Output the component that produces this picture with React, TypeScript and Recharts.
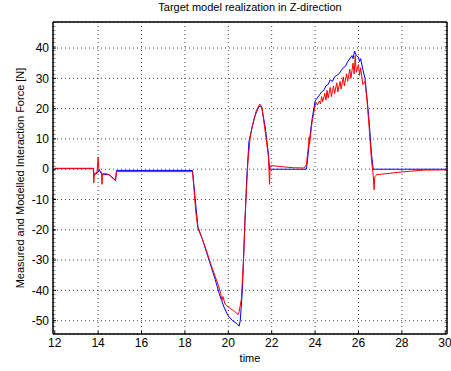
import React from "react";
import { LineChart, Line, XAxis, YAxis, CartesianGrid, ReferenceArea } from "recharts";

// measured force (red)
const redTime = [
  12.0, 13.78, 13.8, 13.83, 13.95, 14.0, 14.03, 14.1, 14.15, 14.18, 14.2, 14.4, 14.55, 14.7, 14.8, 14.85,
  18.35, 18.4, 18.5, 18.6, 18.8, 19.0, 19.2, 19.4, 19.55, 19.65, 19.7, 19.75, 19.85, 20.0, 20.1, 20.2,
  20.3, 20.45, 20.5, 20.6, 20.7, 20.8, 20.9, 21.0, 21.1, 21.2, 21.3, 21.45, 21.55, 21.65, 21.75, 21.85,
  21.9, 21.93, 22.0, 22.5, 23.0, 23.5, 23.6, 23.7, 23.72, 23.75, 23.85, 24.0, 24.05, 24.1, 24.2, 24.25,
  24.3, 24.35, 24.45, 24.5, 24.55, 24.6, 24.7, 24.75, 24.85, 24.9, 25.0, 25.05, 25.15, 25.2, 25.3, 25.35,
  25.45, 25.5, 25.6, 25.65, 25.75, 25.8, 25.85, 25.9, 26.0, 26.05, 26.1, 26.2, 26.3, 26.4, 26.5, 26.6,
  26.68, 26.72, 26.75, 26.85, 27.5, 28.0, 29.0, 30.1,
];
const redForce = [
  0.2, 0.2, -4.5, -1.5, -1, 4, 0, -0.5, -1, -5, -1.5, -1.5, -2, -3.2, -3.8, -0.8,
  -0.8, -5, -14, -19.5, -23, -27, -31.5, -35.5, -38.5, -41, -43.5, -42, -44.5, -45.5, -46, -46.5,
  -47, -48, -47, -43, -30, -12, 2, 10, 14, 17, 19.5, 21.5, 20.5, 15, 10, 4,
  -5, 1, 1.2, 0.8, 0.5, 0.4, 1.5, 8, 10.5, 8.5, 15, 21, 22, 21.2, 22.5, 21.5,
  24, 22.3, 25, 22.8, 26, 23.5, 27, 24, 27.5, 25, 28.5, 25.5, 29, 26.5, 30.5, 27.5,
  31.5, 29, 33, 30, 35, 31.5, 37.5, 32, 34.5, 31, 33.5, 28, 29, 22, 13, 3,
  -2, -6.8, -2.5, -1.8, -1.3, -0.9, -0.3, -0.2,
];

// modelled force (blue)
const blueTime = [
  12.0, 13.78, 13.82, 13.9, 14.0, 14.05, 14.1, 14.2, 14.5, 14.7, 14.8, 14.85, 18.35, 18.45, 18.6, 18.8,
  19.0, 19.2, 19.4, 19.6, 19.8, 20.0, 20.2, 20.4, 20.5, 20.55, 20.65, 20.75, 20.85, 20.95, 21.1, 21.25,
  21.4, 21.48, 21.55, 21.7, 21.85, 21.9, 23.6, 23.65, 23.75, 23.85, 24.0, 24.1, 24.2, 24.3, 24.4, 24.5,
  24.6, 24.7, 24.8, 24.9, 25.0, 25.1, 25.2, 25.3, 25.4, 25.5, 25.6, 25.7, 25.75, 25.82, 25.9, 26.0,
  26.05, 26.1, 26.2, 26.3, 26.4, 26.5, 26.6, 26.68, 30.1,
];
const blueForce = [
  0.3, 0.3, -2, -1.5, -1, 0, -1, -1.8, -1.8, -3, -3.6, -0.4, -0.4, -8, -19, -23,
  -27.5, -32, -36.5, -41.5, -45.5, -48.5, -50, -51, -51.8, -50, -40, -20, -3, 9, 14, 18,
  20.5, 21, 20, 14, 5, 0, 0, 3, 10, 16, 22.5, 23.5, 24.5, 25.5, 26, 27.5,
  28, 29.5, 29, 30.5, 31, 31.5, 32.5, 33.5, 34, 35.5, 36.5, 37.5, 36.5, 39, 37.5, 37,
  35.5, 36.5, 33, 30, 23, 15, 5, 0, 0,
];

const xTicks = [12, 14, 16, 18, 20, 22, 24, 26, 28, 30];
const yTicks = [-50, -40, -30, -20, -10, 0, 10, 20, 30, 40];
const xDomain = [11.92, 30.08];
const yDomain = [-54.4, 48.6];

const redData = redTime.map((t, i) => ({ t, f: redForce[i] }));
const blueData = blueTime.map((t, i) => ({ t, f: blueForce[i] }));

const font = '"Liberation Sans", Arial, sans-serif';
const tickStyle = { fontSize: 12, fill: "#000", fontFamily: font };

export default function App() {
  return (
    <div style={{ position: "absolute", left: 0, top: 0, width: 451, height: 371, background: "#fff" }}>
      <div
        style={{
          position: "absolute",
          top: 1,
          left: 53,
          width: 394,
          textAlign: "center",
          fontFamily: font,
          fontSize: 11,
        }}
      >
        Target model realization in Z-direction
      </div>
      <div
        style={{
          position: "absolute",
          left: 20,
          top: 178,
          transform: "translate(-50%, -50%) rotate(-90deg)",
          whiteSpace: "nowrap",
          fontFamily: font,
          fontSize: 11,
        }}
      >
        Measured and Modelled Interaction Force [N]
      </div>
      <div
        style={{
          position: "absolute",
          top: 352,
          left: 53,
          width: 394,
          textAlign: "center",
          fontFamily: font,
          fontSize: 11,
        }}
      >
        time
      </div>
      <LineChart width={451} height={371} margin={{ top: 21, right: 3, left: 0, bottom: 0 }}>
        <CartesianGrid stroke="#444" strokeDasharray="1 3" />
        <XAxis
          dataKey="t"
          type="number"
          domain={xDomain}
          ticks={xTicks}
          allowDataOverflow
          height={37}
          tick={tickStyle}
          tickSize={-3}
          tickMargin={7}
          stroke="#000"
        />
        <XAxis
          xAxisId="top"
          orientation="top"
          type="number"
          domain={xDomain}
          ticks={xTicks}
          height={1}
          tick={false}
          tickSize={-3}
          stroke="#000"
        />
        <YAxis
          type="number"
          domain={yDomain}
          ticks={yTicks}
          allowDataOverflow
          width={53}
          tick={tickStyle}
          tickSize={-3}
          tickMargin={7}
          stroke="#000"
        />
        <YAxis
          yAxisId="right"
          orientation="right"
          type="number"
          domain={yDomain}
          ticks={yTicks}
          width={1}
          tick={false}
          tickSize={-3}
          stroke="#000"
        />
        <ReferenceArea
          x1={xDomain[0]}
          x2={xDomain[1]}
          y1={yDomain[0]}
          y2={yDomain[1]}
          fill="none"
          stroke="#000"
          strokeWidth={1}
          ifOverflow="extendDomain"
        />
        <Line
          data={blueData}
          dataKey="f"
          stroke="#0000ff"
          strokeWidth={1}
          dot={false}
          type="linear"
          isAnimationActive={false}
        />
        <Line
          data={redData}
          dataKey="f"
          stroke="#ff0000"
          strokeWidth={1}
          dot={false}
          type="linear"
          isAnimationActive={false}
        />
      </LineChart>
    </div>
  );
}
